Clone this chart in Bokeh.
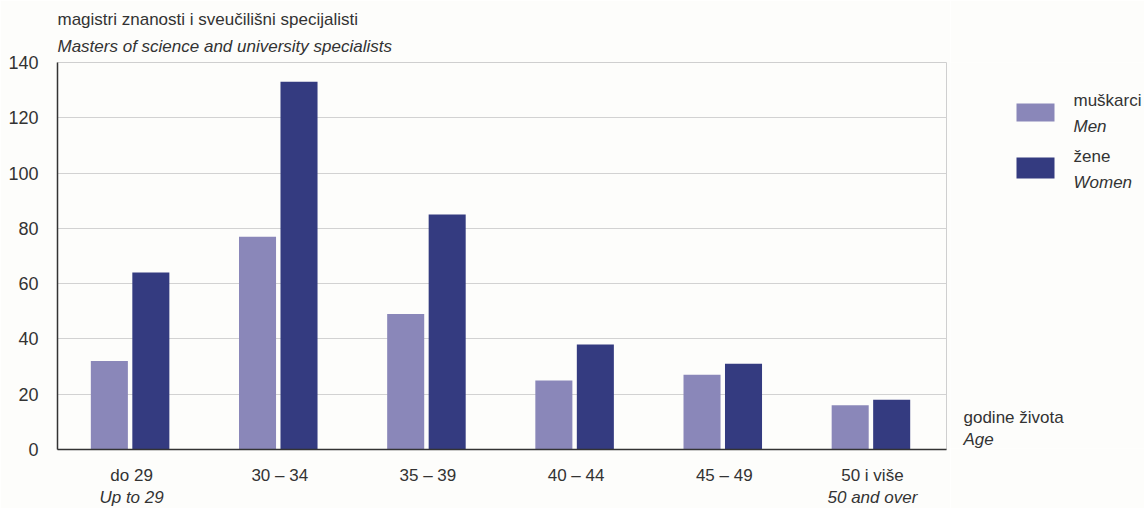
from bokeh.plotting import figure
from bokeh.layouts import row
from bokeh.models import (FactorRange, Range1d, Label, BoxAnnotation, FixedTicker,
                          ColumnDataSource, CategoricalAxis, Title)
from bokeh.transform import dodge
from bokeh.embed import file_html
from bokeh.resources import INLINE

categories = ["do 29", "30 – 34", "35 – 39", "40 – 44", "45 – 49", "50 i više"]
categories_en = ["Up to 29", "", "", "", "", "50 and over"]
men = [32, 77, 49, 25, 27, 16]
women = [64, 133, 85, 38, 31, 18]
y_ticks = [0, 20, 40, 60, 80, 100, 120, 140]

MEN_COLOR = "#8a87b9"
WOMEN_COLOR = "#343b80"
TEXT = "#333333"
FONT = "Liberation Sans"
BG = "#fdfdfb"
FS = "17px"

src = ColumnDataSource(dict(cat=categories, men=men, women=women))

p = figure(x_range=FactorRange(*categories, range_padding=0),
           y_range=Range1d(0, 140),
           frame_width=889, frame_height=387,
           min_border_left=57, min_border_right=4, min_border_top=62, min_border_bottom=59,
           output_backend="svg", toolbar_location=None,
           background_fill_color=BG, border_fill_color=BG)

p.vbar(x=dodge("cat", -0.15, range=p.x_range), top="men", width=0.25, source=src,
       fill_color=MEN_COLOR, line_color=None)
p.vbar(x=dodge("cat", 0.13, range=p.x_range), top="women", width=0.25, source=src,
       fill_color=WOMEN_COLOR, line_color=None)

# second line of the category labels (English), on its own factor range
en_factors = [t if t else " " * (i + 1) for i, t in enumerate(categories_en)]
p.extra_x_ranges = {"en": FactorRange(*en_factors, range_padding=0)}
ax2 = CategoricalAxis(x_range_name="en")
p.add_layout(ax2, "below")

p.yaxis.ticker = FixedTicker(ticks=y_ticks)
p.ygrid.ticker = FixedTicker(ticks=y_ticks)
p.ygrid.grid_line_color = "#d2d2d2"
p.xgrid.grid_line_color = None
for ax in (p.xaxis[0], p.yaxis[0], ax2):
    ax.axis_line_color = "#333333"
    ax.axis_line_width = 1.5
    ax.major_tick_line_color = None
    ax.minor_tick_line_color = None
    ax.major_tick_out = 0
    ax.major_tick_in = 0
    ax.minor_tick_out = 0
    ax.major_label_text_font = FONT
    ax.major_label_text_font_size = FS
    ax.major_label_text_color = TEXT
ax2.axis_line_color = None
ax2.major_label_text_font_style = "italic"
ax2.major_label_standoff = 0
p.yaxis.major_label_text_font_size = "18px"
p.yaxis.major_label_standoff = 19
p.xaxis[0].major_label_standoff = 16
p.outline_line_color = "#cfcfcf"

# two-line title (first added sits closest to the frame)
p.add_layout(Title(text="Masters of science and university specialists", align="left",
                   text_font=FONT, text_font_size=FS, text_font_style="italic",
                   text_color=TEXT, standoff=14), "above")
p.add_layout(Title(text="magistri znanosti i sveučilišni specijalisti", align="left",
                   text_font=FONT, text_font_size=FS, text_font_style="normal",
                   text_color=TEXT, standoff=-3), "above")

# side panel: legend and axis title (its frame is aligned with the main frame)
side = figure(width=194, height=508, x_range=Range1d(0, 194), y_range=Range1d(0, 387),
              min_border_left=0, min_border_right=0, min_border_top=62, min_border_bottom=59,
              output_backend="svg", toolbar_location=None,
              background_fill_color=BG, border_fill_color=BG)
side.axis.visible = False
side.grid.visible = False
side.outline_line_color = None

def lab(text, x, y, italic=False):
    side.add_layout(Label(text=text, x=x, y=y, x_units="screen", y_units="screen",
                          text_font=FONT, text_font_size=FS, text_color=TEXT,
                          text_font_style="italic" if italic else "normal",
                          text_align="left", text_baseline="middle"))

def swatch(color, bottom, top):
    side.add_layout(BoxAnnotation(left=66, right=104, bottom=bottom, top=top,
                                  left_units="screen", right_units="screen",
                                  top_units="screen", bottom_units="screen",
                                  fill_color=color, fill_alpha=1, line_color=None))

swatch(MEN_COLOR, 327, 345)
swatch(WOMEN_COLOR, 270, 291)
lab("muškarci", 123, 348)
lab("Men", 123, 322, italic=True)
lab("žene", 123, 292)
lab("Women", 123, 266, italic=True)
lab("godine života", 13, 31)
lab("Age", 13, 9, italic=True)

layout = row(p, side, spacing=0)
open("out.html", "w").write(file_html(layout, INLINE))
